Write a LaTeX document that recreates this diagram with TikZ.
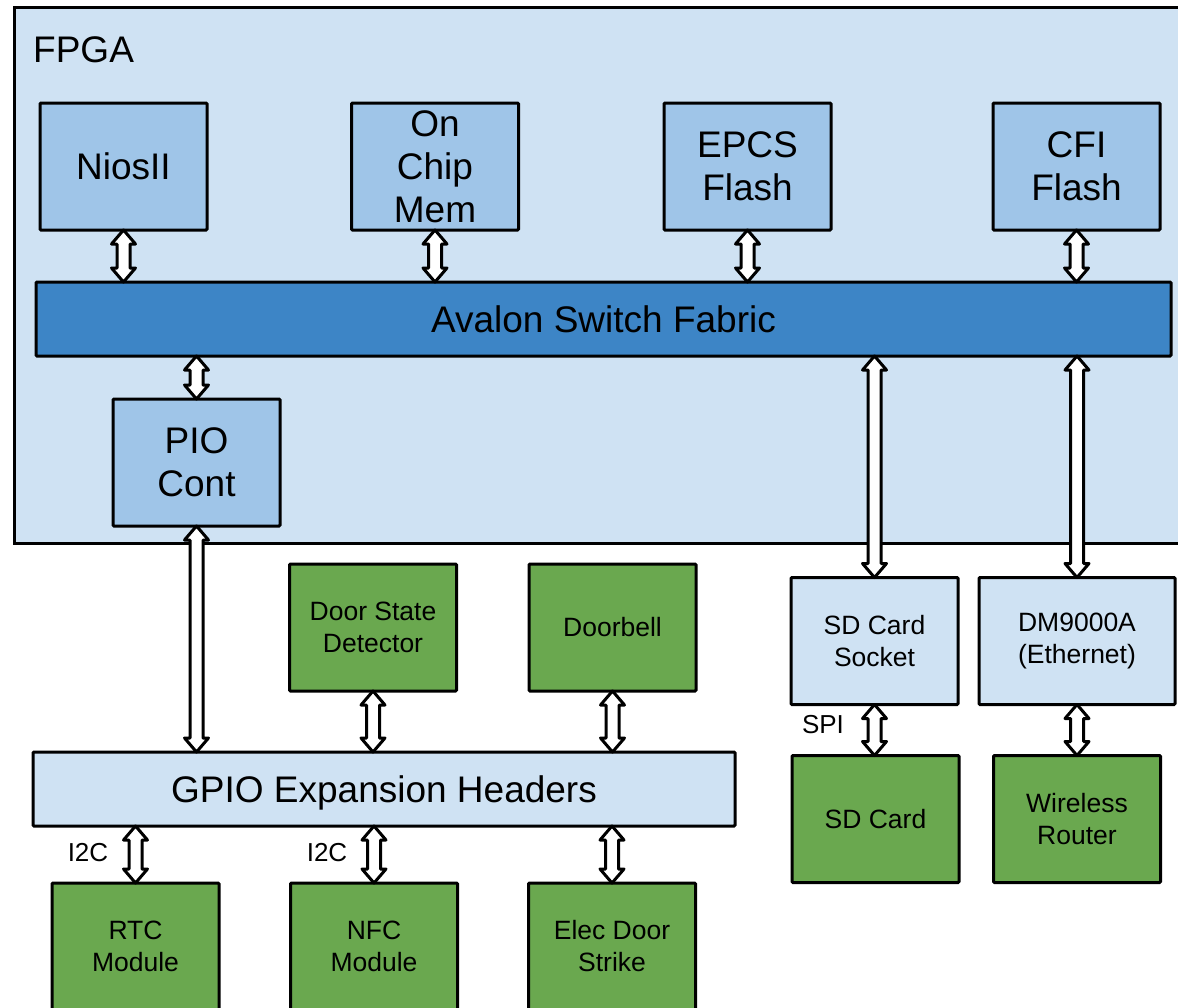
\documentclass[tikz,border=0pt]{standalone}
\usepackage{fontspec}
\setmainfont{Liberation Sans}
\usetikzlibrary{calc}
\definecolor{fpgabg}{HTML}{CFE2F3}
\definecolor{ipblue}{HTML}{9FC5E8}
\definecolor{busblue}{HTML}{3D85C6}
\definecolor{extgreen}{HTML}{6AA84F}
\tikzset{
    blk/.style={draw=black, line width=3pt, rounded corners=1pt, inner sep=0pt, outer sep=0pt,
        align=center, minimum width=167pt, minimum height=127pt},
    ipcore/.style={blk, fill=ipblue, font=\fontsize{37}{43}\selectfont},
    board/.style={blk, fill=fpgabg, font=\fontsize{26.5}{32}\selectfont},
    ext/.style={blk, fill=extgreen, font=\fontsize{26.5}{32}\selectfont},
    bar/.style={blk, minimum height=74pt, text depth=0pt, font=\fontsize{37}{43}\selectfont},
    busarrow/.style={draw=black, fill=white, line width=3pt, line join=round},
    buslbl/.style={font=\fontsize{26}{30}\selectfont, inner sep=0pt}
}
% two-headed bus arrow, #1 upper end, #2 lower end
\newcommand{\biarrow}[2]{%
    \draw[busarrow] let \p1=(#1), \p2=(#2) in
        (\x1,\y1) -- (\x1+12pt,\y1-14pt) -- (\x1+6.5pt,\y1-14pt) -- (\x1+6.5pt,\y2+14pt)
        -- (\x1+12pt,\y2+14pt) -- (\x1,\y2) -- (\x1-12pt,\y2+14pt) -- (\x1-6.5pt,\y2+14pt)
        -- (\x1-6.5pt,\y1-14pt) -- (\x1-12pt,\y1-14pt) -- cycle;}
\begin{document}
\begin{tikzpicture}[x=1pt, y=-1pt]
        \useasboundingbox (0,0) rectangle (1178,1007);
        \clip (0,0) rectangle (1178,1007);
        % FPGA
        \draw[fill=fpgabg, line width=3pt] (14,7) rectangle (1200,543);
        \node[anchor=base west, inner sep=0pt, font=\fontsize{37}{43}\selectfont] (fpgalbl) at (33,62) {FPGA};
        \node[ipcore] (nios) at (123.5,166.5) {NiosII};
        \node[ipcore] (onchip) at (435,166.5) {On\\Chip\\Mem};
        \node[ipcore] (epcs) at (747.5,166.5) {EPCS\\Flash};
        \node[ipcore] (cfi) at (1076.5,166.5) {CFI\\Flash};
        \node[bar, fill=busblue, minimum width=1135pt] (avalon) at (603.5,319) {Avalon Switch Fabric};
        \node[ipcore] (pio) at (196.5,462.5) {PIO\\Cont};
        % board
        \node[board] (sdsock) at (874.5,641) {SD Card\\Socket};
        \node[board, minimum width=196pt] (dm9000) at (1077,641) {DM9000A\\(Ethernet)};
        \node[ext] (doorstate) at (373,627.5) {Door State\\Detector};
        \node[ext] (doorbell) at (612.5,627.5) {Doorbell};
        \node[bar, fill=fpgabg, minimum width=702pt] (gpio) at (384,789) {GPIO Expansion Headers};
        \node[ext] (rtc) at (135.5,946.5) {RTC\\Module};
        \node[ext] (nfc) at (374,946.5) {NFC\\Module};
        \node[ext] (strike) at (612,946.5) {Elec Door\\Strike};
        \node[ext] (sdcard) at (875.5,819) {SD Card};
        \node[ext] (router) at (1077,819) {Wireless\\Router};
        % buses
        \foreach \m in {nios,onchip,epcs,cfi}
            \biarrow{\m.south}{\m.south |- avalon.north};
        \foreach \m in {pio,sdsock,dm9000}
            \biarrow{avalon.south -| \m.north}{\m.north};
        \foreach \m in {pio,doorstate,doorbell}
            \biarrow{\m.south}{\m.south |- gpio.north};
        \foreach \m in {rtc,nfc,strike}
            \biarrow{gpio.south -| \m.north}{\m.north};
        \biarrow{sdsock.south}{sdsock.south |- sdcard.north};
        \biarrow{dm9000.south}{dm9000.south |- router.north};
        \node[buslbl] (i2crtc) at (88,853) {I2C};
        \node[buslbl] (i2cnfc) at (327,853) {I2C};
        \node[buslbl] (spi) at (823,725) {SPI};
\end{tikzpicture}
\end{document}
